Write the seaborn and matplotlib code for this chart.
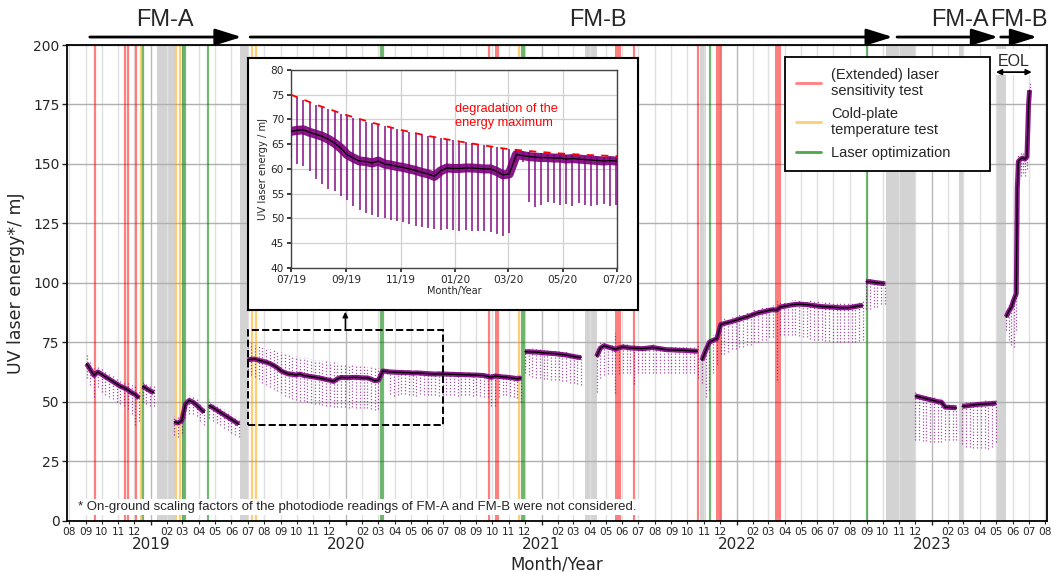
import numpy as np
import pandas as pd
import matplotlib
matplotlib.use("Agg")
import matplotlib.pyplot as plt
import matplotlib.dates as mdates
from matplotlib.lines import Line2D
from matplotlib.patches import Rectangle
import seaborn as sns

sns.set_theme(style="white")
plt.rcParams['font.family'] = ['DejaVu Sans']

# ---------------- data (weekly samples) ----------------
# FM-A 2018
a1_start = "2018-09-03"
a1_med = [66.0, 63.5, 61.0, 62.5, 61.5, 60.5, 59.5, 58.5, 57.5, 56.5, 55.8, 55.0, 53.8, 53.0, 51.5]
a1_low = [60, 57, 52, 56, 54, 53, 52, 51, 50, 49, 48, 47, 45, 40, 42]
a1_high = [70, 66.5, 64, 65, 64, 63, 62, 61, 60, 59, 58.5, 58, 57, 56.5, 54.5]

a1b_start = "2018-12-17"
a1b_med = [56.5, 55.5, 54.5, 53.8]
a1b_low = [50, 49, 48, 48]
a1b_high = [59, 58, 57.5, 56.5]

# FM-A 2019
a2_start = "2019-02-14"
a2_med = [41.5, 41.0, 42.0, 49.0, 50.5, 49.8, 48.5, 47.0, 45.5]
a2_low = [36, 35, 37, 43, 45, 45, 44, 42, 40]
a2_high = [44, 44, 45, 51, 53, 52, 51, 49.5, 48]

a3_start = "2019-04-20"
a3_med = [48.4, 47.5, 46.5, 45.5, 44.5, 43.5, 42.5, 41.5, 40.5]
a3_low = [43, 42, 41, 40, 39, 38, 37, 36, 35]
a3_high = [51, 50, 49, 48, 47, 46, 45, 44, 43]

# FM-B 2019-2020
b1_start = "2019-07-01"
b1_med = [67.6, 67.8, 67.9, 67.4, 67.0, 66.6, 66.0, 65.2, 64.2, 62.9, 62.2, 61.6,
          61.5, 61.2, 61.6, 61.0, 60.8, 60.5, 60.3, 60.0, 59.7, 59.3, 59.0, 58.5,
          59.6, 60.2, 60.1, 60.1, 60.2, 60.2, 60.1, 60.0, 60.0, 59.5, 58.8, 59.0]
b1_low = [62.0, 61.0, 60.5, 59.5, 58.0, 57.0, 56.0, 55.5, 54.5, 53.8, 52.5, 51.8,
          51.2, 50.8, 50.3, 50.1, 49.7, 49.5, 49.2, 48.8, 48.5, 48.2, 48.1, 47.9,
          47.7, 47.8, 47.6, 47.5, 47.6, 47.5, 47.4, 47.5, 47.2, 46.8, 46.4, 47.0]
b1_high = [75.0, 74.5, 74.0, 73.5, 73.0, 72.5, 72.1, 71.7, 71.2, 70.8, 70.3, 69.9,
           69.5, 69.2, 68.9, 68.6, 68.3, 68.0, 67.7, 67.5, 67.2, 67.0, 66.7, 66.5,
           66.2, 66.0, 65.8, 65.6, 65.4, 65.2, 65.0, 64.8, 64.6, 64.4, 64.2, 64.0]

b1b_start = "2020-03-10"
b1b_med = [62.9, 62.7, 62.5, 62.4, 62.3, 62.3, 62.2, 62.2, 62.0, 62.1, 62.0, 61.9, 61.8, 61.7,
           61.6, 61.7, 61.6, 61.6, 61.5, 61.5, 61.4, 61.4, 61.3, 61.3, 61.2, 61.2, 61.1, 61.0]
b1b_low = [61.5, 61.5, 53.4, 52.4, 52.8, 53.4, 53.2, 52.8, 53.0, 52.5, 53.2, 52.8, 52.6, 52.8,
           53.0, 52.5, 52.8, 53.0, 52.8, 53.0, 52.5, 52.8, 53.0, 52.6, 52.4, 52.8, 52.5, 52.0]
b1b_high = [63.8, 63.6, 63.4, 63.3, 63.2, 63.1, 63.0, 62.9, 62.8, 62.8, 62.7, 62.6, 62.5, 62.4,
            62.4, 62.4, 62.3, 62.3, 62.2, 62.2, 62.1, 62.1, 62.0, 62.0, 61.9, 61.9, 61.8, 61.7]

b1c_start = "2020-09-22"
b1c_med = [60.6, 60.2, 60.8, 60.6, 60.4, 60.3, 60.1, 59.9, 59.6, 60.0]
b1c_low = [52, 48, 48, 52, 53, 53, 52.5, 52, 51.5, 50]
b1c_high = [62, 62.5, 62, 62, 61.8, 61.7, 61.5, 61.3, 61.2, 61.5]

# FM-B 2020-2021
b2_start = "2020-12-01"
b2_med = [71.0, 71.0, 70.9, 70.8, 70.7, 70.5, 70.4, 70.3, 70.2, 70.0, 69.8, 69.6, 69.3, 69.0, 68.7, 68.5]
b2_low = [62, 61, 60.5, 60, 60, 59.5, 59.5, 59, 59, 59, 58.5, 58.5, 58, 58, 57.5, 57]
b2_high = [72.5, 72.5, 72.4, 72.3, 72.2, 72.0, 71.9, 71.8, 71.7, 71.5, 71.3, 71.1, 70.8, 70.5, 70.2, 70.0]

b3_start = "2021-04-14"
b3_med = [69.0, 72.5, 73.5, 73.0, 72.6, 72.0, 72.6, 73.0, 72.8, 72.6, 72.5, 72.4, 72.3, 72.4,
          72.6, 72.8, 72.5, 72.3, 72.0, 71.8, 71.8, 71.7, 71.6, 71.6, 71.5, 71.4, 71.3, 71.2]
b3_low = [54, 60, 61, 61.5, 61.5, 53.5, 61.5, 62, 62, 62, 57.5, 62, 62, 62,
          62, 62, 62, 62, 62, 62, 62, 62, 62, 62, 62, 62, 62, 60]
b3_high = [71, 75, 75, 74.5, 74, 79, 74, 74.5, 74.3, 74, 74, 73.9, 73.8, 73.9,
           74, 74.2, 74, 73.8, 73.5, 73.3, 73.3, 73.2, 73.1, 73.1, 73, 72.9, 72.8, 74]

# FM-B 2021-2022
b4_start = "2021-10-28"
b4_med = [67.4, 71.5, 75.0, 75.8, 76.5, 82.4, 82.9, 83.3, 83.7, 84.2, 84.7, 85.2, 85.6, 86.2, 86.8,
          87.3, 87.7, 88.0, 88.4, 88.7, 88.5, 89.8, 90.1, 90.4, 90.7, 90.9, 91.0, 90.9, 90.8, 90.6,
          90.4, 90.2, 90.0, 89.9, 89.8, 89.7, 89.6, 89.5, 89.5, 89.5, 89.7, 90.0, 90.3, 90.5]
b4_low = [58, 52, 55, 62, 66, 70, 70, 71, 72, 72, 73, 73, 74, 74, 75,
          75, 76, 76, 77, 77, 59, 78, 78, 78, 78, 78, 77.5, 77, 77, 76.5,
          76, 76, 76, 75.5, 75.5, 75, 75, 75, 75, 75, 75, 75, 75.5, 76]
b4_high = [70, 74, 77, 78, 79, 84.5, 85, 85.3, 85.7, 86.2, 86.7, 87.2, 87.6, 88.2, 88.8,
           89.3, 89.7, 90, 90.4, 90.7, 92.5, 91.8, 92.1, 92.4, 92.7, 92.9, 93, 92.9, 92.8, 92.6,
           92.4, 92.2, 92, 91.9, 91.8, 91.7, 91.6, 91.5, 91.5, 91.5, 91.7, 92, 92.3, 92.5]

b5_start = "2022-08-31"
b5_med = [100.4, 100.5, 100.2, 100.0, 99.8, 99.6]
b5_low = [89, 89, 90, 90, 91, 91]
b5_high = [101.6, 101.7, 101.4, 101.2, 101.0, 100.8]

# FM-A 2022-2023
a4_start = "2022-12-01"
a4_med = [52.4, 52.0, 51.6, 51.2, 50.8, 50.4, 50.0, 49.8, 47.7, 47.6, 47.5, 47.4]
a4_low = [34, 34, 33.5, 33.5, 33, 33, 33, 33, 34, 34, 34, 34]
a4_high = [54, 53.6, 53.2, 52.8, 52.4, 52, 51.6, 51.4, 49, 48.9, 48.8, 48.7]

a5_start = "2023-02-27"
a5_med = [48.0, 48.2, 48.4, 48.6, 48.8, 48.9, 49.0, 49.1, 49.2, 49.4]
a5_low = [32, 31, 31, 30.5, 30.5, 30.5, 30.5, 30, 31, 33]
a5_high = [49.5, 49.7, 49.9, 50.1, 50.3, 50.4, 50.5, 50.6, 50.7, 51]

# FM-B end of life
b6_dates = ["2023-05-20", "2023-05-25", "2023-05-30", "2023-06-03", "2023-06-08", "2023-06-10",
            "2023-06-12", "2023-06-16", "2023-06-20", "2023-06-24", "2023-06-28", "2023-07-01", "2023-07-03"]
b6_med = [85.6, 88.0, 89.8, 92.6, 95.4, 140.0, 151.0, 152.0, 152.5, 152.0, 153.0, 175.0, 181.0]
b6_low = [80, 76, 74, 73, 80, 120, 140, 145, 146, 145, 148, 165, 178]
b6_high = [88, 91, 93, 95, 98, 148, 154, 154.5, 155, 154.5, 156, 180, 184]

# degradation of the maximum (inset)
degr_dates = ["2019-07-01", "2019-08-01", "2019-09-01", "2019-10-01", "2019-11-01", "2019-12-01", "2020-01-01",
              "2020-02-01", "2020-03-01", "2020-04-01", "2020-05-01", "2020-06-01", "2020-07-01"]
degr_vals = [75.0, 72.8, 70.9, 69.3, 67.9, 66.7, 65.7, 64.8, 64.0, 63.5, 63.1, 62.8, 62.6]

# events
red_lines = ["2018-09-18", "2018-11-13", "2018-11-20", "2018-12-04", "2020-09-24", "2021-06-23", "2021-10-21"]
red_spans = [("2020-10-06", "2020-10-13"), ("2021-05-19", "2021-05-29"),
             ("2021-11-24", "2021-12-05"), ("2022-03-14", "2022-03-25")]
orange_lines = ["2018-12-13", "2019-02-18", "2019-02-25", "2019-07-09", "2019-07-17", "2020-11-20"]
green_lines = ["2018-12-17", "2019-03-02", "2019-03-06", "2019-04-18", "2020-03-06", "2020-03-10",
               "2020-11-26", "2020-11-30", "2021-11-12", "2022-09-01"]
gray_spans = [("2019-01-13", "2019-02-16"), ("2019-06-17", "2019-07-01"), ("2021-03-23", "2021-04-15"),
              ("2021-10-24", "2021-11-04"), ("2022-10-07", "2022-12-02"), ("2023-02-20", "2023-03-01"),
              ("2023-05-02", "2023-05-20")]

legend_labels = ["(Extended) laser\nsensitivity test", "Cold-plate\ntemperature test", "Laser optimization"]


def weekly(start, n):
    return pd.date_range(start, periods=n, freq="7D")


segments = [
    (weekly(a1_start, len(a1_med)), a1_med, a1_low, a1_high),
    (weekly(a1b_start, len(a1b_med)), a1b_med, a1b_low, a1b_high),
    (weekly(a2_start, len(a2_med)), a2_med, a2_low, a2_high),
    (weekly(a3_start, len(a3_med)), a3_med, a3_low, a3_high),
    (weekly(b1_start, len(b1_med)), b1_med, b1_low, b1_high),
    (weekly(b1b_start, len(b1b_med)), b1b_med, b1b_low, b1b_high),
    (weekly(b1c_start, len(b1c_med)), b1c_med, b1c_low, b1c_high),
    (weekly(b2_start, len(b2_med)), b2_med, b2_low, b2_high),
    (weekly(b3_start, len(b3_med)), b3_med, b3_low, b3_high),
    (weekly(b4_start, len(b4_med)), b4_med, b4_low, b4_high),
    (weekly(b5_start, len(b5_med)), b5_med, b5_low, b5_high),
    (weekly(a4_start, len(a4_med)), a4_med, a4_low, a4_high),
    (weekly(a5_start, len(a5_med)), a5_med, a5_low, a5_high),
    (pd.to_datetime(b6_dates), b6_med, b6_low, b6_high),
]
# continuous median traces (FM-B 2019-2020 is one uninterrupted record)
line_groups = [[0], [1], [2], [3], [4, 5, 6], [7], [8], [9], [10], [11], [12], [13]]

T = pd.Timestamp
ARIAL = 'Liberation Sans'

fig = plt.figure(figsize=(10.54, 5.72), dpi=100)
ax = fig.add_axes([0.0639, 0.0900, 0.9292, 0.8313])

# events
for a, b in gray_spans:
    ax.axvspan(T(a), T(b), color='#d3d3d3', lw=0, zorder=1)
for d in red_lines:
    ax.axvline(T(d), color='red', alpha=0.5, lw=1.6, zorder=2)
for a, b in red_spans:
    ax.axvspan(T(a), T(b), color='red', alpha=0.5, lw=0, zorder=2)
for d in orange_lines:
    ax.axvline(T(d), color='orange', alpha=0.55, lw=1.6, zorder=2)
for d in green_lines:
    ax.axvline(T(d), color='green', alpha=0.55, lw=1.6, zorder=2)


def draw_data(axis, idx_groups, col_style, col_lw, col_alpha, band_color, band_lw, med_lw):
    for dates, med, low, high in segments:
        axis.vlines(dates, low, high, colors='purple', linestyles=col_style, lw=col_lw,
                    alpha=col_alpha, zorder=3)
    for grp in idx_groups:
        dates = np.concatenate([np.asarray(segments[i][0]) for i in grp])
        med = np.concatenate([segments[i][1] for i in grp])
        axis.plot(dates, med, color=band_color, lw=band_lw, alpha=0.9, zorder=3.5,
                  solid_capstyle='butt')
        df = pd.DataFrame({'date': dates, 'med': med})
        sns.lineplot(data=df, x='date', y='med', ax=axis, color='black', lw=med_lw,
                     estimator=None, sort=False, zorder=4)


draw_data(ax, line_groups, (0, (1, 1.5)), 0.9, 0.7, 'purple', 3.6, 1.0)

ax.set_xlim(T("2018-07-29"), T("2023-08-04"))
ax.set_ylim(0, 200)
ax.set_yticks(np.arange(0, 201, 25))
ax.set_xlabel("Month/Year", fontsize=12, labelpad=2)
ax.set_ylabel("UV laser energy*/ mJ", fontsize=12.5, labelpad=6)

ax.xaxis.set_major_locator(mdates.YearLocator())
ax.xaxis.set_major_formatter(mdates.DateFormatter('%Y'))
ax.xaxis.set_minor_locator(mdates.MonthLocator(bymonth=list(range(2, 13))))
ax.xaxis.set_minor_formatter(mdates.DateFormatter('%m'))
ax.tick_params(axis='x', which='major', length=3.2, width=1, pad=9, labelsize=11, bottom=True)
ax.tick_params(axis='x', which='minor', length=2.4, width=0.8, pad=2, labelsize=7.6, bottom=True)
ax.tick_params(axis='y', length=3.5, width=1, labelsize=10, left=True, pad=2)
ax.set_axisbelow('line')
ax.yaxis.grid(True, color='#b0b0b0', lw=1.0)
ax.xaxis.grid(True, which='major', color='#b8b8b8', lw=1.0)
ax.xaxis.grid(True, which='minor', color='#e0e0e0', lw=1.0)
for s in ax.spines.values():
    s.set_color('black')
    s.set_linewidth(1.3)

# legend
handles = [Line2D([0], [0], color='red', alpha=0.5, lw=2),
           Line2D([0], [0], color='orange', alpha=0.55, lw=2),
           Line2D([0], [0], color='green', alpha=0.7, lw=2)]
leg = ax.legend(handles, legend_labels, loc='upper left', bbox_to_anchor=(0.733, 0.726, 0.209, 0.249),
                mode='expand', borderaxespad=0,
                frameon=True, fancybox=False, edgecolor='black', framealpha=1,
                prop={'family': ARIAL, 'size': 10.5}, handlelength=1.7, handletextpad=0.7,
                borderpad=0.75, labelspacing=0.6)
leg.get_frame().set_linewidth(1.3)
leg.set_zorder(10)

# dashed zoom rectangle + arrow
r0 = mdates.date2num(T("2019-07-01"))
r1 = mdates.date2num(T("2020-07-01"))
ax.add_patch(Rectangle((r0, 40), r1 - r0, 40, fill=False, ls='--', lw=1.4, ec='black', zorder=6))
ax.annotate('', xy=(T("2019-12-31"), 87.8), xytext=(T("2019-12-31"), 80.5),
            arrowprops=dict(arrowstyle='-|>', color='black', lw=1, mutation_scale=8,
                            shrinkA=0, shrinkB=0), zorder=6)

# footnote
ax.text(0.011, 0.028, "* On-ground scaling factors of the photodiode readings of FM-A and FM-B were not considered.",
        transform=ax.transAxes, fontsize=9.5, family=ARIAL, va='center', ha='left', zorder=7,
        bbox=dict(facecolor='white', edgecolor='none', pad=1.5))

# EOL
ax.text(T("2023-06-03"), 193, "EOL", ha='center', va='center', fontsize=11.5, family=ARIAL, zorder=7,
        bbox=dict(facecolor='white', edgecolor='none', pad=4))
ax.annotate('', xy=(T("2023-05-01"), 188.6), xytext=(T("2023-07-07"), 188.6),
            arrowprops=dict(arrowstyle='<|-|>', color='black', lw=1.3, mutation_scale=8,
                            shrinkA=0, shrinkB=0), zorder=8)

# FM-A / FM-B headers
hdr = [("FM-A", "2019-01-27", "2018-09-09", "2019-06-20"),
       ("FM-B", "2021-04-17", "2019-07-06", "2022-10-20"),
       ("FM-A", "2023-02-23", "2022-10-28", "2023-05-05"),
       ("FM-B", "2023-06-12", "2023-05-10", "2023-07-17")]
for lab, xc, xa, xb in hdr:
    ax.annotate('', xy=(T(xb), 1.0168), xytext=(T(xa), 1.0168), xycoords=('data', 'axes fraction'),
                textcoords=('data', 'axes fraction'), annotation_clip=False,
                arrowprops=dict(arrowstyle='-|>,head_length=0.8,head_width=0.25', color='black', lw=2,
                                mutation_scale=20, shrinkA=0, shrinkB=0))
    ax.text(T(xc), 1.052, lab, transform=ax.get_xaxis_transform(), ha='center', va='center',
            fontsize=17, family=ARIAL, clip_on=False)

# inset frame
fr = fig.add_axes([0.2353, 0.458, 0.370, 0.4406])
fr.set_xticks([]); fr.set_yticks([])
fr.set_facecolor('white')
for s in fr.spines.values():
    s.set_color('black'); s.set_linewidth(1.5)

# inset
ins = fig.add_axes([0.2761, 0.5315, 0.3093, 0.3462])
draw_data(ins, [[4, 5, 6]], 'solid', 1.4, 0.75, '#7a007a', 6.5, 0.9)
ins.plot(pd.to_datetime(degr_dates), degr_vals, color='red', ls=(0, (4, 4)), lw=1.3, zorder=5)
ins.text(T("2020-01-01"), 73.3, "degradation of the\nenergy maximum", color='red', fontsize=9.2,
         family=ARIAL, va='top', ha='left')
ins.set_xlim(T("2019-07-01"), T("2020-07-01"))
ins.set_ylim(40, 80)
ins.set_yticks(np.arange(40, 81, 5))
ins.xaxis.set_major_locator(mdates.MonthLocator(bymonth=[1, 3, 5, 7, 9, 11]))
ins.xaxis.set_major_formatter(mdates.DateFormatter('%m/%y'))
ins.tick_params(labelsize=7.6, length=3, left=True, bottom=True, pad=2)
ins.grid(True, color='#d0d0d0', lw=0.9)
ins.set_xlabel("Month/Year", fontsize=7, labelpad=1)
ins.set_ylabel("UV laser energy / mJ", fontsize=7.2, labelpad=2)
for s in ins.spines.values():
    s.set_color('#444444'); s.set_linewidth(1)

fig.savefig("out.png", dpi=100)
